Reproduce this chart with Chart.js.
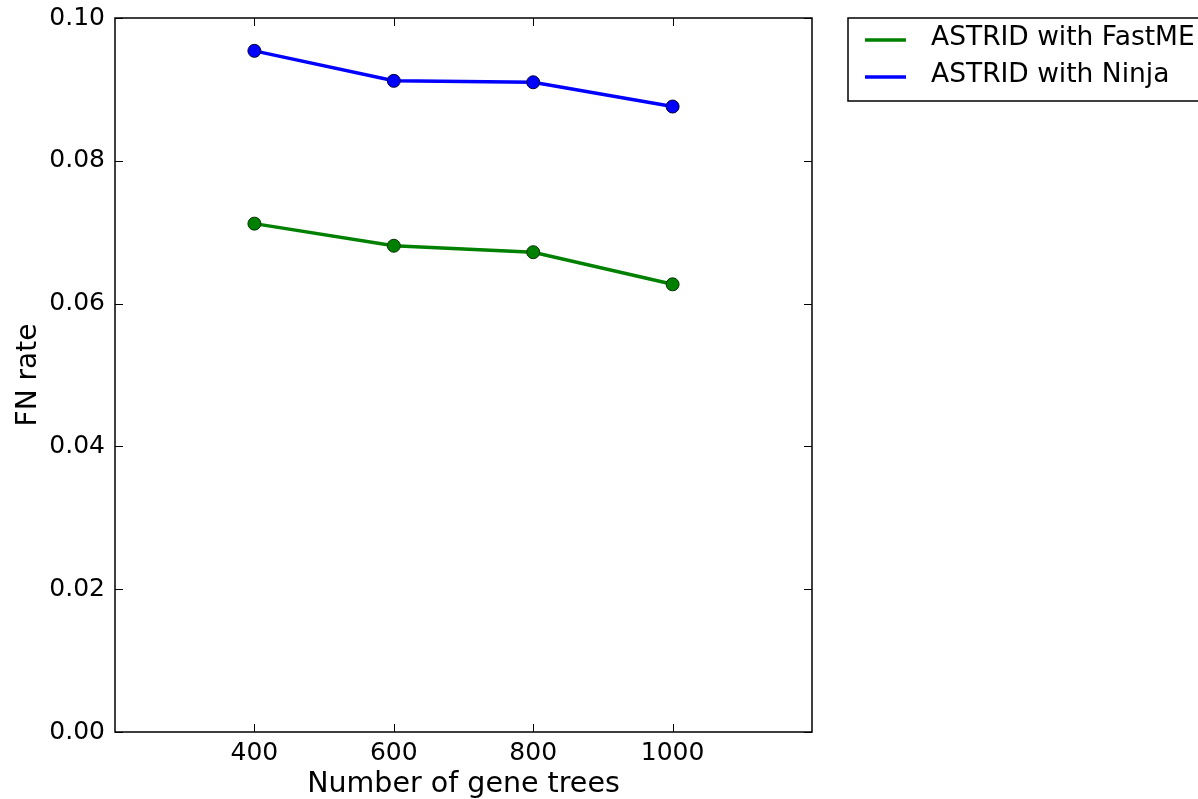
<!DOCTYPE html>
<html>
<head>
<meta charset="utf-8">
<script src="https://cdn.jsdelivr.net/npm/chart.js@4"></script>
<style>
  html, body { margin: 0; padding: 0; background: #fff; }
  #wrap { width: 1198px; height: 799px; }
</style>
</head>
<body>
<div id="wrap"><canvas id="myChart" width="1198" height="799"></canvas></div>
<script>
// gene tree counts and FN rates per method
const geneTrees = [400, 600, 800, 1000];
const fastmeRate = [0.0712, 0.0681, 0.0672, 0.0627];
const ninjaRate = [0.0954, 0.0912, 0.0910, 0.0876];
const seriesNames = ["ASTRID with FastME", "ASTRID with Ninja"];
const yTicks = [0, 0.02, 0.04, 0.06, 0.08, 0.1];

const FONT = "'DejaVu Sans', sans-serif";

// matplotlib-style frame with inward ticks on all four sides
const framePlugin = {
  id: "frame",
  afterDatasetsDraw(chart) {
    const { ctx, chartArea: a, scales } = chart;
    const len = 8;
    ctx.save();
    ctx.strokeStyle = "#000";
    ctx.lineWidth = 1.5;
    ctx.strokeRect(a.left, a.top, a.right - a.left, a.bottom - a.top);
    ctx.lineWidth = 1;
    ctx.beginPath();
    geneTrees.forEach((v) => {
      const x = Math.round(scales.x.getPixelForValue(v)) + 0.5;
      ctx.moveTo(x, a.bottom); ctx.lineTo(x, a.bottom - len);
      ctx.moveTo(x, a.top); ctx.lineTo(x, a.top + len);
    });
    yTicks.forEach((v) => {
      const y = Math.round(scales.y.getPixelForValue(v)) + 0.5;
      ctx.moveTo(a.left, y); ctx.lineTo(a.left + len, y);
      ctx.moveTo(a.right, y); ctx.lineTo(a.right - len, y);
    });
    ctx.stroke();
    ctx.restore();
  },
};

// legend box to the right of the axes
const sideLegend = {
  id: "sideLegend",
  afterDraw(chart) {
    const { ctx } = chart;
    const x0 = 848, y0 = 18, w = 360, h = 83;
    ctx.save();
    ctx.fillStyle = "#fff";
    ctx.fillRect(x0, y0, w, h);
    ctx.strokeStyle = "#000";
    ctx.lineWidth = 1.5;
    ctx.strokeRect(x0, y0, w, h);
    ctx.font = "26.5px " + FONT;
    ctx.textBaseline = "middle";
    chart.data.datasets.forEach((ds, i) => {
      const y = y0 + 20 + i * 37;
      ctx.strokeStyle = ds.borderColor;
      ctx.lineWidth = 3.5;
      ctx.beginPath();
      ctx.moveTo(865, y + 2);
      ctx.lineTo(906, y + 2);
      ctx.stroke();
      ctx.fillStyle = "#000";
      ctx.fillText(ds.label, 931, y);
    });
    ctx.restore();
  },
};

const toPoints = (vals) => vals.map((v, i) => ({ x: geneTrees[i], y: v }));

const data = {
  datasets: [
    {
      label: seriesNames[0],
      data: toPoints(fastmeRate),
      borderColor: "#008000",
      backgroundColor: "#008000",
      pointBorderColor: "#003300",
    },
    {
      label: seriesNames[1],
      data: toPoints(ninjaRate),
      borderColor: "#0000ff",
      backgroundColor: "#0000ff",
      pointBorderColor: "#000033",
    },
  ].map((d) => ({
    ...d,
    borderWidth: 3.5,
    pointRadius: 6.5,
    pointBorderWidth: 1,
    pointHoverRadius: 6.5,
    tension: 0,
  })),
};

const config = {
  type: "line",
  data: data,
  plugins: [framePlugin, sideLegend],
  options: {
    responsive: false,
    animation: false,
    layout: { padding: { left: 0, right: 386, top: 18, bottom: 0 } },
    plugins: { legend: { display: false }, tooltip: { enabled: false } },
    scales: {
      x: {
        type: "linear",
        min: 200,
        max: 1200,
        afterBuildTicks: (s) => { s.ticks = geneTrees.map((v) => ({ value: v })); },
        afterFit: (s) => {
          s.height = 67;
          s.paddingLeft = 0;
          s.paddingRight = 0;
        },
        grid: { display: false, drawTicks: false },
        border: { display: false },
        ticks: {
          color: "#000",
          font: { family: FONT, size: 25 },
          padding: 6,
          maxRotation: 0,
          callback: (v) => String(v),
        },
        title: {
          display: true,
          text: "Number of gene trees",
          color: "#000",
          font: { family: FONT, size: 28.5 },
          padding: { top: 0, bottom: -3 },
        },
      },
      y: {
        min: 0,
        max: 0.1,
        afterBuildTicks: (s) => { s.ticks = yTicks.map((v) => ({ value: v })); },
        afterFit: (s) => {
          s.width = 115;
          s.paddingTop = 0;
          s.paddingBottom = 0;
        },
        grid: { display: false, drawTicks: false },
        border: { display: false },
        ticks: {
          color: "#000",
          font: { family: FONT, size: 25 },
          padding: 10,
          callback: (v) => v.toFixed(2),
        },
        title: {
          display: true,
          text: "FN rate",
          color: "#000",
          font: { family: FONT, size: 28 },
          padding: { top: 12, bottom: 0 },
        },
      },
    },
  },
};

const ctx = document.getElementById("myChart");
const myChart = new Chart(ctx, config);
</script>
</body>
</html>
